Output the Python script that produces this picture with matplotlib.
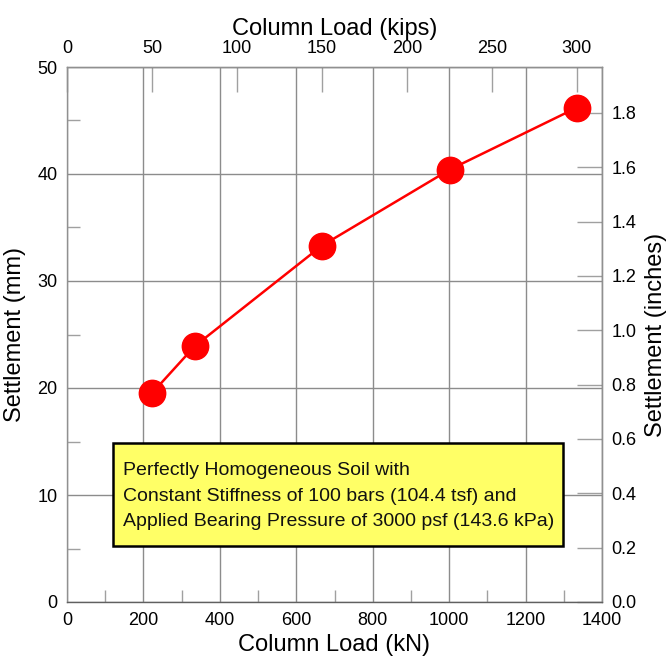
import matplotlib
matplotlib.use("Agg")
import matplotlib.pyplot as plt
from matplotlib.patches import Rectangle
from matplotlib.ticker import MultipleLocator

# Data
load_kN = [222, 334, 667, 1001, 1334]
settlement_mm = [19.5, 23.9, 33.3, 40.4, 46.2]

x_ticks_kN = [0, 200, 400, 600, 800, 1000, 1200, 1400]
y_ticks_mm = [0, 10, 20, 30, 40, 50]
top_ticks_kips = [0, 50, 100, 150, 200, 250, 300]
right_ticks_in = [0.0, 0.2, 0.4, 0.6, 0.8, 1.0, 1.2, 1.4, 1.6, 1.8]

note_lines = ["Perfectly Homogeneous Soil with",
              "Constant Stiffness of 100 bars (104.4 tsf) and",
              "Applied Bearing Pressure of 3000 psf (143.6 kPa)"]

KN_PER_KIP = 4.44822
MM_PER_IN = 25.4

plt.rcParams['font.family'] = ['Liberation Sans', 'DejaVu Sans']

fig = plt.figure(figsize=(6.7, 6.62), dpi=100)
ax = fig.add_axes([67/670, 1 - 602/662, (602-67)/670, (602-67)/662])

gray = '#8c8c8c'
ax.set_xlim(0, 1400)
ax.set_ylim(0, 50)
ax.set_xticks(x_ticks_kN)
ax.set_yticks(y_ticks_mm)
ax.xaxis.set_minor_locator(MultipleLocator(100))
ax.yaxis.set_minor_locator(MultipleLocator(5))
ax.grid(True, which='major', color=gray, linewidth=1.0, zorder=0)
ax.tick_params(which='major', direction='in', length=0, labelsize=13, pad=7)
ax.tick_params(which='minor', direction='in', length=9, color='#a0a0a0', width=1)
for s in ax.spines.values():
    s.set_color('#909090')
    s.set_linewidth(1.0)
ax.spines['bottom'].set_color('#606060')

ax.plot(load_kN, settlement_mm, color='#ff0000', linewidth=1.8,
        marker='o', markersize=19, markeredgecolor='#ff0000',
        markerfacecolor='#ff0000', zorder=5, clip_on=False)

ax.set_xlabel('Column Load (kN)', fontsize=17, labelpad=4)
ax.set_ylabel('Settlement (mm)', fontsize=17, labelpad=8)

top = ax.secondary_xaxis('top', functions=(lambda v: v / KN_PER_KIP,
                                            lambda v: v * KN_PER_KIP))
top.set_xticks(top_ticks_kips)
top.tick_params(direction='in', length=18, color='#a0a0a0', width=1,
                labelsize=13, pad=7)
top.set_xlabel('Column Load (kips)', fontsize=17, labelpad=4)

right = ax.secondary_yaxis('right', functions=(lambda v: v / MM_PER_IN,
                                                lambda v: v * MM_PER_IN))
right.set_yticks(right_ticks_in)
right.set_yticklabels([f'{v:.1f}' for v in right_ticks_in])
right.tick_params(direction='in', length=18, color='#a0a0a0', width=1,
                  labelsize=13, pad=7)
right.set_ylabel('Settlement (inches)', fontsize=17, labelpad=6)

# note box
ax.add_patch(Rectangle((120, 5.23), 1178, 9.63, facecolor='#ffff66',
                       edgecolor='black', linewidth=1.8, zorder=3))
ax.text(147, 9.9, "\n".join(note_lines), fontsize=14, ha='left',
        va='center', linespacing=1.63, zorder=4, color='#111111')

fig.savefig('out.png', dpi=100)
